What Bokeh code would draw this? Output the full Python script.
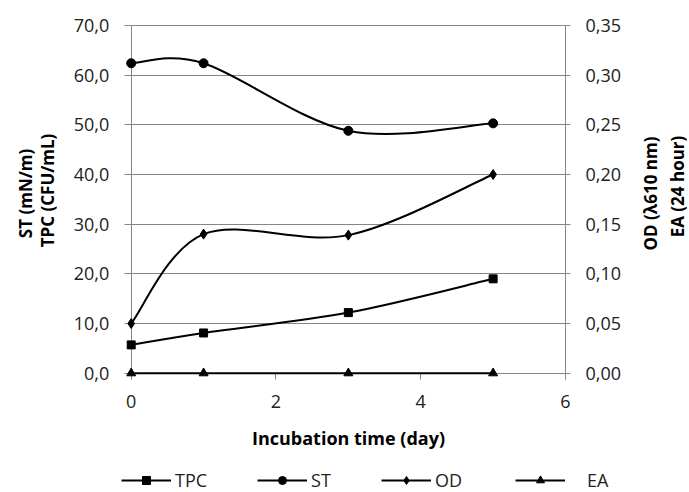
import numpy as np
from bokeh.plotting import figure
from bokeh.models import (Range1d, LinearAxis, FixedTicker, CustomJSTickFormatter,
                          Legend, LegendItem, Label)
from bokeh.embed import file_html
from bokeh.resources import INLINE

# ---- data ----
days = [0, 1, 3, 5]
tpc = [5.7, 8.1, 12.2, 19.0]
st = [62.4, 62.4, 48.8, 50.3]
od = [0.050, 0.140, 0.139, 0.200]
ea = [0.0, 0.0, 0.0, 0.0]
left_ticks = [0, 10, 20, 30, 40, 50, 60, 70]
right_ticks = [0.0, 0.05, 0.10, 0.15, 0.20, 0.25, 0.30, 0.35]
x_ticks = [0, 2, 4, 6]

FONT = "Open Sans"
GRAY = "#868686"
TXT = "#222222"

# ---- layout (pixels in the 689x492 canvas) ----
W, H = 689, 492
X0_PX, X6_PX = 130.7, 565.0      # x = 0 and x = 6
Y0_PX, Y70_PX = 372.7, 25.0      # y = 0 and y = 70 (from top)
px_x = (X6_PX - X0_PX) / 6.0
px_y = (Y0_PX - Y70_PX) / 70.0
x_start = -X0_PX / px_x
x_end = 6 + (W - X6_PX) / px_x
y_start = -(H - Y0_PX) / px_y
y_end = 70 + Y70_PX / px_y
R_FACTOR = 0.35 / 70.0
TICK_EXT_Y = 6 / px_y            # axis lines run 6px below zero (tick look)

p = figure(width=W, height=H, x_range=Range1d(x_start, x_end), y_range=Range1d(y_start, y_end),
           output_backend="svg", toolbar_location=None,
           min_border_left=0, min_border_right=0, min_border_top=0, min_border_bottom=0)
p.outline_line_color = None
p.background_fill_color = "white"
p.border_fill_color = "white"
p.extra_y_ranges = {"r": Range1d(y_start * R_FACTOR, y_end * R_FACTOR)}

right_axis = LinearAxis(y_range_name="r")
p.add_layout(right_axis, "right")

xa = p.xaxis[0]
ya = p.yaxis[0]
for ax in [xa, ya, right_axis]:
    ax.level = "underlay"
    ax.axis_line_color = GRAY
    ax.major_tick_line_color = GRAY
    ax.minor_tick_line_color = None
    ax.major_tick_in = 0
    ax.major_label_text_font = FONT
    ax.major_label_text_font_size = "18px"
    ax.major_label_text_color = TXT

xa.fixed_location = 0
xa.bounds = (0, 6)
xa.ticker = FixedTicker(ticks=x_ticks)
xa.axis_line_color = None
xa.major_tick_out = 6
xa.major_label_standoff = 16
xa.formatter = CustomJSTickFormatter(code="return tick.toFixed(0);")

ya.fixed_location = 0
ya.bounds = (-TICK_EXT_Y, 70)
ya.ticker = FixedTicker(ticks=left_ticks)
ya.major_tick_out = 7
ya.major_label_standoff = 15
ya.formatter = CustomJSTickFormatter(code="return tick.toFixed(1).replace('.', ',');")

right_axis.fixed_location = 6
right_axis.bounds = (-TICK_EXT_Y * R_FACTOR, 0.35)
right_axis.ticker = FixedTicker(ticks=right_ticks)
right_axis.major_tick_out = 5
right_axis.major_label_standoff = 15
right_axis.formatter = CustomJSTickFormatter(code="return tick.toFixed(2).replace('.', ',');")

p.xgrid.visible = False
p.ygrid.ticker = FixedTicker(ticks=left_ticks)
p.ygrid.grid_line_color = GRAY
p.ygrid.grid_line_width = 1
try:
    p.ygrid.cross_bounds = (0, 6)
except Exception:
    p.ygrid.visible = False
    p.segment(x0=[0] * len(left_ticks), x1=[6] * len(left_ticks), y0=left_ticks, y1=left_ticks,
              line_color=GRAY, line_width=1, level="underlay")


def bezier_parts(xs, ys):
    P = np.column_stack([xs, ys]).astype(float)
    n = len(P)
    ext = np.vstack([P[0], P, P[-1]])
    c0 = P[:-1] + (ext[2:n + 1] - ext[0:n - 1]) / 6.0
    c1 = P[1:] - (ext[3:n + 2] - ext[1:n]) / 6.0
    return dict(x0=P[:-1, 0], y0=P[:-1, 1], x1=P[1:, 0], y1=P[1:, 1],
                cx0=c0[:, 0], cy0=c0[:, 1], cx1=c1[:, 0], cy1=c1[:, 1])


LW = 2
b = bezier_parts(days, tpc)
tpc_line = p.bezier(line_color="black", line_width=LW, **b)
tpc_pts = p.scatter(days, tpc, marker="square", size=8, color="black")

b = bezier_parts(days, st)
st_line = p.bezier(line_color="black", line_width=LW, **b)
st_pts = p.scatter(days, st, marker="circle", size=9, color="black")

b = bezier_parts(days, od)
od_line = p.bezier(line_color="black", line_width=LW, y_range_name="r", **b)
od_pts = p.scatter(days, od, marker="diamond", size=10, color="black", y_range_name="r")

ea_line = p.line(days, ea, line_color="black", line_width=LW, y_range_name="r")
ea_pts = p.scatter(days, ea, marker="triangle", size=9, color="black", y_range_name="r")

leg_common = dict(orientation="horizontal", glyph_width=50, glyph_height=20,
                  padding=0, margin=0, border_line_color=None, background_fill_alpha=0,
                  label_text_font=FONT, label_text_font_size="18px", label_text_color=TXT,
                  label_height=20)
leg1 = Legend(items=[LegendItem(label="TPC", renderers=[tpc_line, tpc_pts]),
                     LegendItem(label="ST", renderers=[st_line, st_pts]),
                     LegendItem(label="OD", renderers=[od_line, od_pts])],
              location=(121, 0), label_standoff=4, spacing=50, **leg_common)
leg2 = Legend(items=[LegendItem(label="EA", renderers=[ea_line, ea_pts])],
              location=(515, 0), label_standoff=22, **leg_common)
p.add_layout(leg1)
p.add_layout(leg2)

# axis titles (screen px; y measured from the bottom)
ts = dict(x_units="screen", y_units="screen", text_font=FONT, text_font_size="17px",
          text_font_style="bold", text_color="black", text_align="center",
          text_baseline="middle")
p.add_layout(Label(x=25, y=H - 193, text="ST (mN/m)", angle=np.pi / 2, **ts))
p.add_layout(Label(x=47, y=H - 190, text="TPC (CFU/mL)", angle=np.pi / 2, **ts))
p.add_layout(Label(x=650, y=H - 193, text="OD (λ610 nm)", angle=np.pi / 2, **ts))
p.add_layout(Label(x=677, y=H - 186, text="EA (24 hour)", angle=np.pi / 2, **ts))
bt = dict(ts)
bt["text_font_size"] = "18px"
p.add_layout(Label(x=348, y=H - 437, text="Incubation time (day)", **bt))

open("out.html", "w").write(file_html(p, INLINE))
